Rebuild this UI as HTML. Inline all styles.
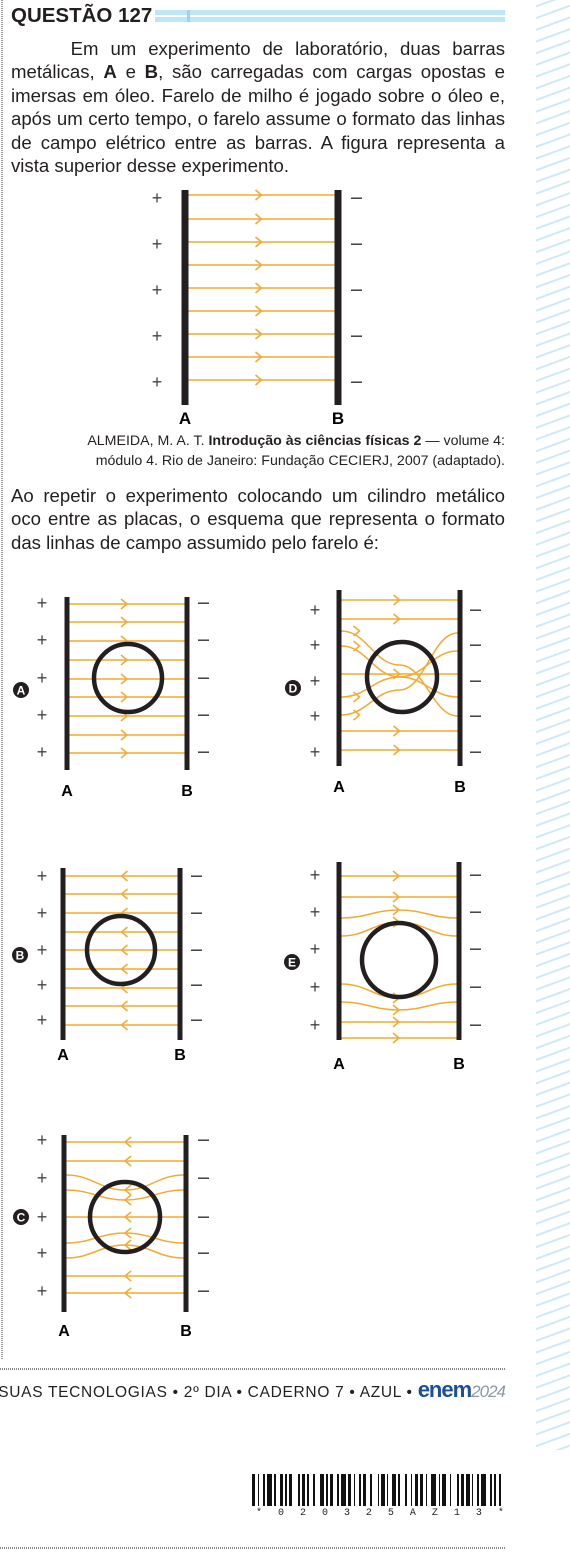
<!DOCTYPE html>
<html><head><meta charset="utf-8">
<style>
body{margin:0;width:570px;height:1564px;background:#fff;position:relative;overflow:hidden;font-family:"Liberation Sans",sans-serif;color:#231f20}
.abs{position:absolute}
#para1{left:11px;top:37px;width:494px;font-size:18.6px;line-height:23.4px;text-align:justify}
#para2{left:11px;top:484px;width:494px;font-size:18.6px;line-height:23.4px;text-align:justify}
#cap{left:20px;top:431px;width:485px;font-size:14.2px;line-height:20px;text-align:right}
#strip{left:536px;top:0;width:34px;height:1450px;background:repeating-linear-gradient(160deg,#fff 0 5px,#cfeaf7 5px 7px,#fff 7px 11px)}
</style></head><body>
<div class="abs" style="left:1px;top:0;width:2px;height:1360px;background:repeating-linear-gradient(#999 0 1px,#fff 1px 2px)"></div>
<div class="abs" id="strip"></div>
<div class="abs" style="left:11px;top:4px;font-size:20.5px;font-weight:bold">QUESTÃO 127</div>
<div class="abs" style="left:155px;top:10px;width:350px;height:12px;background:#bfe5f8"><div style="position:absolute;left:0;top:5px;width:350px;height:2px;background:#fff"></div><div style="position:absolute;left:32px;top:0;width:3px;height:12px;background:#9fd3f0"></div></div>
<div class="abs" id="para1">&nbsp;&nbsp;&nbsp;&nbsp;&nbsp;Em um experimento de laboratório, duas barras metálicas, <b>A</b> e <b>B</b>, são carregadas com cargas opostas e imersas em óleo. Farelo de milho é jogado sobre o óleo e, após um certo tempo, o farelo assume o formato das linhas de campo elétrico entre as barras. A figura representa a vista superior desse experimento.</div>
<div class="abs" id="cap">ALMEIDA, M. A. T. <b>Introdução às ciências físicas 2</b> — volume 4:<br>módulo 4. Rio de Janeiro: Fundação CECIERJ, 2007 (adaptado).</div>
<div class="abs" id="para2">Ao repetir o experimento colocando um cilindro metálico oco entre as placas, o esquema que representa o formato das linhas de campo assumido pelo farelo é:</div>
<svg id="fig" class="abs" style="left:0;top:0" width="570" height="1564"></svg>
<div class="abs" style="left:0;top:1368px;width:505px;height:2px;background:repeating-linear-gradient(90deg,#888 0 1px,#fff 1px 2px)"></div>
<div class="abs" style="right:65px;top:1377px;font-size:15.5px;letter-spacing:0.7px;white-space:nowrap">SUAS TECNOLOGIAS • 2º DIA • CADERNO 7 • AZUL • <span style="color:#1b4f9c;font-weight:bold;font-size:22px;letter-spacing:-1px">enem</span><span style="color:#8a9aa8;font-style:italic;font-size:17px;letter-spacing:-1px">2024</span></div>
<div class="abs" id="barcode" style="left:252px;top:1474px;width:253px;height:32px"></div>
<div class="abs" style="left:256px;top:1508px;width:248px;font-family:'Liberation Mono',monospace;font-size:10px;display:flex;justify-content:space-between"><span>*</span><span>0</span><span>2</span><span>0</span><span>3</span><span>2</span><span>5</span><span>A</span><span>Z</span><span>1</span><span>3</span><span>*</span></div>
<div class="abs" style="left:0;top:1547px;width:505px;height:2px;background:repeating-linear-gradient(90deg,#888 0 1px,#fff 1px 2px)"></div>
<script>
const svg=document.getElementById('fig');const NS='http://www.w3.org/2000/svg';
const OR='#f6a830';
function mk(t,a,txt){const e=document.createElementNS(NS,t);for(const k in a)e.setAttribute(k,a[k]);if(txt!==undefined)e.textContent=txt;svg.appendChild(e);return e;}
const mainLines=[195,219,242,265,288,311,334,357,380];
const panelA=[604,622,641,660,679,697,716,735,753];
const panelB=[876,894,913,932,950,969,988,1006,1025];
const panels=[
 {L:185,R:338,T:190,B:405,dir:1,c:null,lab:null,signs:[198,244,290,336,382],px:157,mx:356,ly:418,sw:7,lines:mainLines.map(y=>[y,y,y])},
 {L:67,R:187,T:597,B:770,dir:1,c:[128,678,34],lab:'A',lx:21,lyy:690,signs:[603,640,678,715,752],px:42,mx:203,ly:790,sw:5,lines:panelA.map(y=>[y,y,y])},
 {L:339,R:460,T:590,B:766,dir:1,c:[402,677,35],lab:'D',lx:293,lyy:688,signs:[610,645,681,716,752],px:315,mx:475,ly:786,sw:5,lines:[[600,600,600],[619,619,619],[631,716,665],[646,697,677],[674,674,674],[697,651,677],[715,633,690],[731,731,731],[750,750,750]]},
 {L:63,R:180,T:868,B:1040,dir:-1,c:[121,950,34],lab:'B',lx:20,lyy:955,signs:[876,913,950,985,1020],px:42,mx:196,ly:1054,sw:5,lines:panelB.map(y=>[y,y,y])},
 {L:339,R:459,T:862,B:1040,dir:1,c:[399,960,37],lab:'E',lx:292,lyy:962,signs:[875,912,949,987,1025],px:315,mx:475,ly:1063,sw:5,lines:[[876,876,876],[897,897,897],[918,918,910],[936,936,922],[984,984,998],[1002,1002,1010],[1022,1022,1022],[1038,1038,1038]]},
 {L:64,R:186,T:1135,B:1312,dir:-1,c:[125,1217,35],lab:'C',lx:21,lyy:1217,signs:[1140,1178,1217,1253,1291],px:42,mx:203,ly:1330,sw:5,lines:[[1142,1142,1142],[1161,1161,1161],[1175,1175,1190],[1190,1190,1200],[1217,1217,1217],[1243,1243,1233],[1258,1258,1245],[1276,1276,1276],[1293,1293,1293]]},
];
panels.forEach((p,i)=>{
 const mid=(p.L+p.R)/2;
 p.lines.forEach((l,j)=>{
  const [y1,y2,ym]=l;const a=p.L+p.sw/2,b=p.R-p.sw/2;
  let d;
  if(y1===y2&&y2===ym) d=`M${a},${y1}H${b}`;
  else d=`M${a},${y1}C${a+25},${y1} ${mid-25},${ym} ${mid},${ym}S${b-25},${y2} ${b},${y2}`;
  const e=mk('path',{d:d,fill:'none',stroke:OR,'stroke-width':1.5});
  
  
  const ax=p.c&&y1!==y2?a+18:mid, ay=p.c&&y1!==y2?y1:ym, s=p.dir*6;
  const ch=mk('path',{d:`M${ax-s},${ay-5}L${ax},${ay}L${ax-s},${ay+5}`,fill:'none',stroke:OR,'stroke-width':1.5});
  
  
 });
 if(p.c){const c=mk('circle',{cx:p.c[0],cy:p.c[1],r:p.c[2],fill:'none',stroke:'#231f20','stroke-width':4.5});
  
  }
 [p.L,p.R].forEach(x=>{const r=mk('rect',{x:x-p.sw/2,y:p.T,width:p.sw,height:p.B-p.T,fill:'#231f20'});
  
  });
 p.signs.forEach(y=>{
  const t=mk('text',{x:p.px,y:y+6,'font-size':18,'text-anchor':'middle',fill:'#444','font-family':'Liberation Sans'},'+');
  
  
  const m=mk('rect',{x:p.mx-5,y:y-0.5,width:11,height:1.4,fill:'#333'});
  
  
 });
 const fs=i===0?17:16;
 const ta=mk('text',{x:p.L,y:p.ly+6,'font-size':fs,'font-weight':'bold','text-anchor':'middle','font-family':'Liberation Sans'},'A');
 
 
 const tb=mk('text',{x:p.R,y:p.ly+6,'font-size':fs,'font-weight':'bold','text-anchor':'middle','font-family':'Liberation Sans'},'B');
 
 
 if(p.lab){
  const bc=mk('circle',{cx:p.lx,cy:p.lyy,r:8,fill:'#231f20'});
  
  
  const bt=mk('text',{x:p.lx,y:p.lyy+4.5,'font-size':12,'font-weight':'bold',fill:'#fff','text-anchor':'middle','font-family':'Liberation Sans'},p.lab);
  
  
 }
});
const bcw=[2,1,1,2,1,1,3,1,1,2,2,1,1,1,2,3,1,1,2,1,1,2,1,3,2,1,1,1,2,2,1,1,3,1,2,1,1,2,1,1,2,2,1,3,1,1,2,1,1,2,2,1,1,3,1,2,1,1,2,1,2,1,1,2,3,1,1,1,2,2,1,3,1,1,2,1,2,1,1,2,1,1,3,2,1,1,1,2,1,2];
const tot=bcw.reduce((a,b)=>a+b,0),sc=253/tot;
let bh='',x=0;bcw.forEach((w,i)=>{if(i%2===0)bh+=`<div style="position:absolute;left:${(x*sc).toFixed(2)}px;top:0;width:${(w*sc*0.9).toFixed(2)}px;height:32px;background:#111"></div>`;x+=w;});
document.getElementById('barcode').innerHTML=bh;
</script>
</body></html>
